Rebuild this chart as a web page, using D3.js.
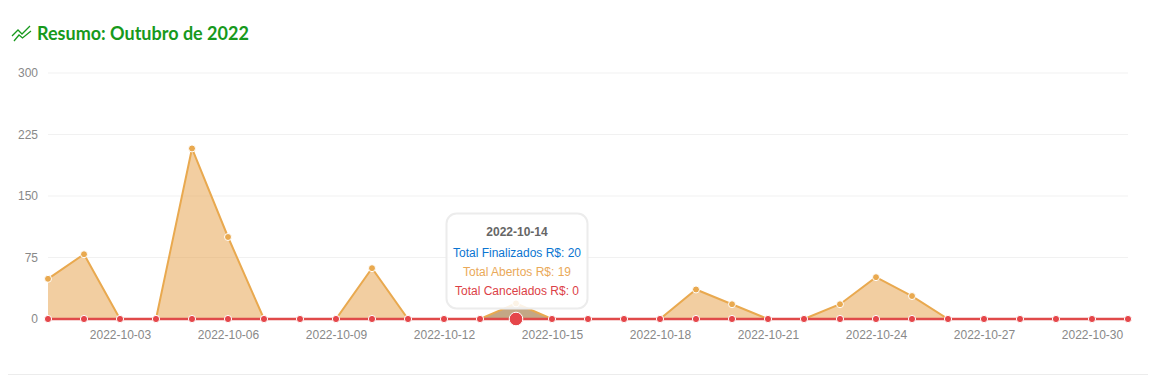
<!DOCTYPE html>
<html>
<head>
<meta charset="utf-8">
<script src="https://cdn.jsdelivr.net/npm/d3@7"></script>
<style>
    body { margin: 0; background: #fff; }
    #chart { width: 1161px; height: 385px; }
    text { font-family: "Liberation Sans", Arial, sans-serif; }
</style>
</head>
<body>
<div id="chart"></div>
<script>
var days = ["2022-10-01","2022-10-02","2022-10-03","2022-10-04","2022-10-05","2022-10-06","2022-10-07","2022-10-08",
    "2022-10-09","2022-10-10","2022-10-11","2022-10-12","2022-10-13","2022-10-14","2022-10-15","2022-10-16",
    "2022-10-17","2022-10-18","2022-10-19","2022-10-20","2022-10-21","2022-10-22","2022-10-23","2022-10-24",
    "2022-10-25","2022-10-26","2022-10-27","2022-10-28","2022-10-29","2022-10-30","2022-10-31"];
var abertos = [49,79,0,0,208,100,0,0,0,62,0,0,0,19,0,0,0,0,36,18,0,0,18,51,28,0,0,0,0,0,0];
var cancelados = [0,0,0,0,0,0,0,0,0,0,0,0,0,0,0,0,0,0,0,0,0,0,0,0,0,0,0,0,0,0,0];
var xTicks = ["2022-10-03","2022-10-06","2022-10-09","2022-10-12","2022-10-15","2022-10-18","2022-10-21","2022-10-24","2022-10-27","2022-10-30"];
var yTicks = [0,75,150,225,300];
var activeDay = "2022-10-14";
var tooltipLines = [
    {label: "Total Finalizados R$: 20", color: "#0b75d1"},
    {label: "Total Abertos R$: 19", color: "#eaa959"},
    {label: "Total Cancelados R$: 0", color: "#dc3f47"}
];

var svg = d3.select("#chart").append("svg")
    .attr("width", 1161)
    .attr("height", 385);

var xscale = d3.scalePoint().domain(days).range([48, 1128]);
var yscale = d3.scaleLinear().domain([0, 300]).range([319, 73]);

//title and its icon
var icon = svg.append("g")
    .attr("transform", "translate(12,26)")
    .attr("fill", "none")
    .attr("stroke", "#17991c")
    .attr("stroke-width", 1.3);
icon.append("path").attr("d", "M0,10 L6,4 L10,8 L18,0");
icon.append("path").attr("d", "M2,15 L7,9 L10.5,12 L19,5");

svg.append("text")
    .attr("x", 37)
    .attr("y", 40)
    .style("font-family", "Lato, sans-serif")
    .style("font-size", "18px")
    .style("font-weight", "700")
    .attr("fill", "#17991c")
    .text("Resumo: Outubro de 2022");

//create the axis
var yAxis = d3.axisLeft(yscale).tickValues(yTicks).tickSize(0).tickPadding(10);
svg.append("g")
    .attr("transform", "translate(48,0)")
    .call(yAxis)
    .call(function (g) { g.select(".domain").remove(); })
    .call(function (g) {
        g.selectAll("text").style("font-size", "12px").attr("fill", "#888");
    });

svg.append("g").selectAll("line").data(yTicks).enter().append("line")
    .attr("x1", 48)
    .attr("x2", 1128)
    .attr("y1", function (d) { return yscale(d); })
    .attr("y2", function (d) { return yscale(d); })
    .attr("stroke", "#f1f1f1");

var xAxis = d3.axisBottom(xscale).tickValues(xTicks).tickSize(0).tickPadding(11);
svg.append("g")
    .attr("transform", "translate(0,319)")
    .call(xAxis)
    .call(function (g) { g.select(".domain").remove(); })
    .call(function (g) {
        g.selectAll("text").style("font-size", "12px").attr("fill", "#888");
    });

//bottom rule of the card
svg.append("line")
    .attr("x1", 8)
    .attr("x2", 1148)
    .attr("y1", 374.5)
    .attr("y2", 374.5)
    .attr("stroke", "#ececec");

//abertos area, line and points
var area = d3.area()
    .x(function (d, i) { return xscale(days[i]); })
    .y0(yscale(0))
    .y1(function (d) { return yscale(d); });
var line = d3.line()
    .x(function (d, i) { return xscale(days[i]); })
    .y(function (d) { return yscale(d); });

svg.append("path")
    .attr("d", area(abertos))
    .attr("fill", "#e6a24a")
    .attr("fill-opacity", 0.52);

//the tooltip shadow darkens the area right below it
svg.append("clipPath").attr("id", "tipShadow")
    .append("rect")
    .attr("x", xscale(activeDay) - 36)
    .attr("y", 300)
    .attr("width", 72)
    .attr("height", 19);
svg.append("path")
    .attr("d", area(abertos))
    .attr("clip-path", "url(#tipShadow)")
    .attr("fill", "#7d6f5c")
    .attr("fill-opacity", 0.4);

svg.append("path")
    .attr("d", line(abertos))
    .attr("fill", "none")
    .attr("stroke", "#e9a94f")
    .attr("stroke-width", 2);
svg.append("g").selectAll("circle").data(abertos).enter().append("circle")
    .attr("cx", function (d, i) { return xscale(days[i]); })
    .attr("cy", function (d) { return yscale(d); })
    .attr("r", 3.5)
    .attr("fill", "#e9a94f")
    .attr("stroke", "#fff")
    .attr("stroke-width", 1);

//cancelados line and points
svg.append("path")
    .attr("d", line(cancelados))
    .attr("fill", "none")
    .attr("stroke", "#e04a4a")
    .attr("stroke-width", 2.6);
svg.append("g").selectAll("circle").data(cancelados).enter().append("circle")
    .attr("cx", function (d, i) { return xscale(days[i]); })
    .attr("cy", function (d) { return yscale(d); })
    .attr("r", function (d, i) { return days[i] == activeDay ? 6.8 : 3.6; })
    .attr("fill", "#e5464a")
    .attr("stroke", "#fff")
    .attr("stroke-width", 1);

//tooltip
var tipX = xscale(activeDay) + 1;
var tip = svg.append("g").attr("transform", "translate(" + tipX + ",213)");
tip.append("rect")
    .attr("x", -70.5)
    .attr("y", 0.5)
    .attr("width", 141)
    .attr("height", 95)
    .attr("rx", 10)
    .attr("fill", "#fff")
    .attr("fill-opacity", 0.86)
    .attr("stroke", "#ececec")
    .attr("stroke-width", 2);
tip.append("text")
    .attr("y", 23)
    .attr("text-anchor", "middle")
    .style("font-size", "12px")
    .style("font-weight", "700")
    .attr("fill", "#666")
    .text(activeDay);
tip.selectAll(".row").data(tooltipLines).enter().append("text")
    .attr("class", "row")
    .attr("y", function (d, i) { return 44 + i * 19; })
    .attr("text-anchor", "middle")
    .style("font-size", "12px")
    .attr("fill", function (d) { return d.color; })
    .text(function (d) { return d.label; });
</script>
</body>
</html>
